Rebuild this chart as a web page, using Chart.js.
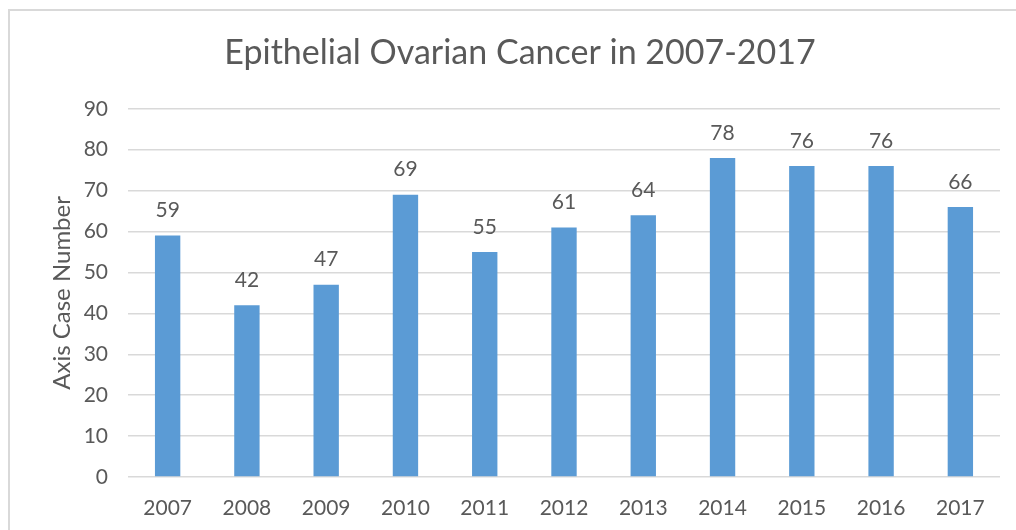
<!DOCTYPE html>
<html>
<head>
<meta charset="utf-8">
<script src="https://cdn.jsdelivr.net/npm/chart.js@4"></script>
<style>
  html, body { margin: 0; padding: 0; background: #fff; overflow: hidden; }
  #frame {
    position: absolute; left: 8px; top: 9px;
    width: 1030px; height: 540px;
    border: 2px solid #d9d9d9; box-sizing: border-box;
  }
  #wrap { position: absolute; left: 0; top: 0; width: 1020px; height: 521px; }
</style>
</head>
<body>
<div id="frame"><div id="wrap"><canvas id="caseChart"></canvas></div></div>
<script>
const YEARS = ["2007", "2008", "2009", "2010", "2011", "2012", "2013", "2014", "2015", "2016", "2017"];
const CASES = [59, 42, 47, 69, 55, 61, 64, 78, 76, 76, 66];
const TITLE = "Epithelial Ovarian Cancer in 2007-2017";
const Y_TITLE = "Axis Case Number";

const TEXT = "#595959";
const FONT = "Lato, 'Open Sans', sans-serif";

/* ===== value labels above bars ===== */
const barLabels = {
  id: "barLabels",
  afterDatasetsDraw(chart) {
    const ctx = chart.ctx;
    const meta = chart.getDatasetMeta(0);
    ctx.save();
    ctx.font = "21px " + FONT;
    ctx.fillStyle = TEXT;
    ctx.textAlign = "center";
    ctx.textBaseline = "middle";
    meta.data.forEach((bar, i) => {
      ctx.fillText(CASES[i], bar.x, bar.y - 25);
    });
    ctx.restore();
  }
};

new Chart(document.getElementById("caseChart"), {
  type: "bar",
  data: {
    labels: YEARS,
    datasets: [{
      data: CASES,
      backgroundColor: "#5b9bd5",
      barPercentage: 0.32,
      categoryPercentage: 1
    }]
  },
  options: {
    responsive: true,
    maintainAspectRatio: false,
    animation: false,
    layout: { padding: { left: 30, right: 30, bottom: 0 } },
    plugins: {
      legend: { display: false },
      tooltip: { enabled: false },
      title: {
        display: true,
        text: TITLE,
        color: TEXT,
        font: { family: FONT, size: 34, weight: "normal", lineHeight: 1.2 },
        padding: { top: 22, bottom: 35 }
      }
    },
    scales: {
      x: {
        grid: { display: false, drawTicks: false },
        border: { display: false },
        ticks: { color: TEXT, font: { family: FONT, size: 21 }, padding: 19 },
        afterFit(scale) { scale.height = 55; }
      },
      y: {
        min: 0,
        max: 90,
        ticks: { stepSize: 10, color: TEXT, font: { family: FONT, size: 21 }, padding: 20 },
        grid: { color: "#d9d9d9", lineWidth: 1.5, drawTicks: false },
        border: { display: false },
        title: {
          display: true,
          text: Y_TITLE,
          color: TEXT,
          font: { family: FONT, size: 24, lineHeight: 1.2 },
          padding: { top: 8, bottom: 0 }
        },
        afterFit(scale) { scale.width = 88; }
      }
    }
  },
  plugins: [barLabels]
});
</script>
</body>
</html>
